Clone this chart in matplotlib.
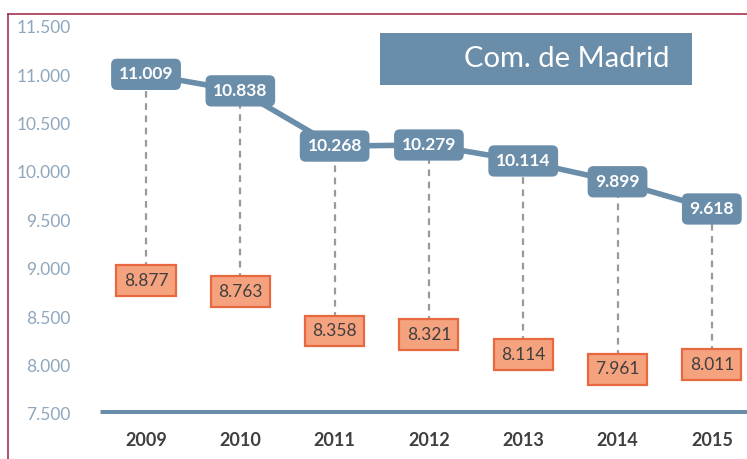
import matplotlib.pyplot as plt
from matplotlib.lines import Line2D

years = ["2009", "2010", "2011", "2012", "2013", "2014", "2015"]
madrid = [11009, 10838, 10268, 10279, 10114, 9899, 9618]
lower = [8877, 8763, 8358, 8321, 8114, 7961, 8011]
yticks = [7500, 8000, 8500, 9000, 9500, 10000, 10500, 11000, 11500]

BLUE = "#6A8DAA"
ORANGE_FILL = "#F5A27F"
ORANGE_EDGE = "#E8683F"
TICK_C = "#8EA7BC"
DARK = "#3F3F3F"

def fmt(v):
    return f"{v:,}".replace(",", ".")

plt.rcParams["font.family"] = ["Lato", "DejaVu Sans"]

fig = plt.figure(figsize=(7.47, 4.59), dpi=100)
W, H = 747, 459
# axes placed so the data grid lines up with the reference
ax = fig.add_axes([100 / W, (H - 414) / H, (W - 100) / W, 400 / H])
ax.set_xlim(-0.488, 6.373)
ax.set_ylim(7500, 7500 + 400 / 48.4 * 500)

x = list(range(len(years)))

# dashed connectors
for i in x:
    ax.plot([i, i], [lower[i], madrid[i]], color="#9A9A9A", lw=1.6,
            ls=(0, (3, 2.5)), zorder=1)

ax.plot(x, madrid, color=BLUE, lw=4, zorder=2, solid_capstyle="round")

for i in x:
    ax.text(i, madrid[i], fmt(madrid[i]), ha="center", va="center",
            color="white", fontsize=12.5, fontweight="bold", zorder=4,
            bbox=dict(boxstyle="round,pad=0.4,rounding_size=0.3",
                      fc=BLUE, ec=BLUE, lw=1))
    ax.text(i, lower[i], fmt(lower[i]), ha="center", va="center",
            color=DARK, fontsize=12.5, zorder=4,
            bbox=dict(boxstyle="square,pad=0.42", fc=ORANGE_FILL,
                      ec=ORANGE_EDGE, lw=1.6))

ax.axhline(7500, color=BLUE, lw=6.5, zorder=3, solid_capstyle="butt")

ax.set_yticks(yticks)
ax.set_yticklabels([fmt(v) for v in yticks], color=TICK_C, fontsize=12.5)
ax.set_xticks(x)
ax.set_xticklabels(years, color=DARK, fontsize=13, fontweight="bold")
ax.tick_params(axis="y", length=0, pad=21)
ax.tick_params(axis="x", length=0, pad=13)
for s in ax.spines.values():
    s.set_visible(False)
ax.patch.set_alpha(0)

# title box
fig.patches.append(plt.Rectangle((380 / W, (H - 85) / H), 312 / W, 52 / H,
                                 transform=fig.transFigure, fc=BLUE, ec="none"))
fig.text(670 / W, (H - 59) / H, "Com. de Madrid", ha="right", va="center",
         color="white", fontsize=21)

# thin maroon frame (top and left)
fig.lines.append(Line2D([8 / W, 1], [(H - 14) / H] * 2, color="#A23350",
                        lw=1.2, transform=fig.transFigure))
fig.lines.append(Line2D([8 / W] * 2, [0, (H - 14) / H], color="#A23350",
                        lw=1.2, transform=fig.transFigure))

fig.savefig("out.png", dpi=100)
